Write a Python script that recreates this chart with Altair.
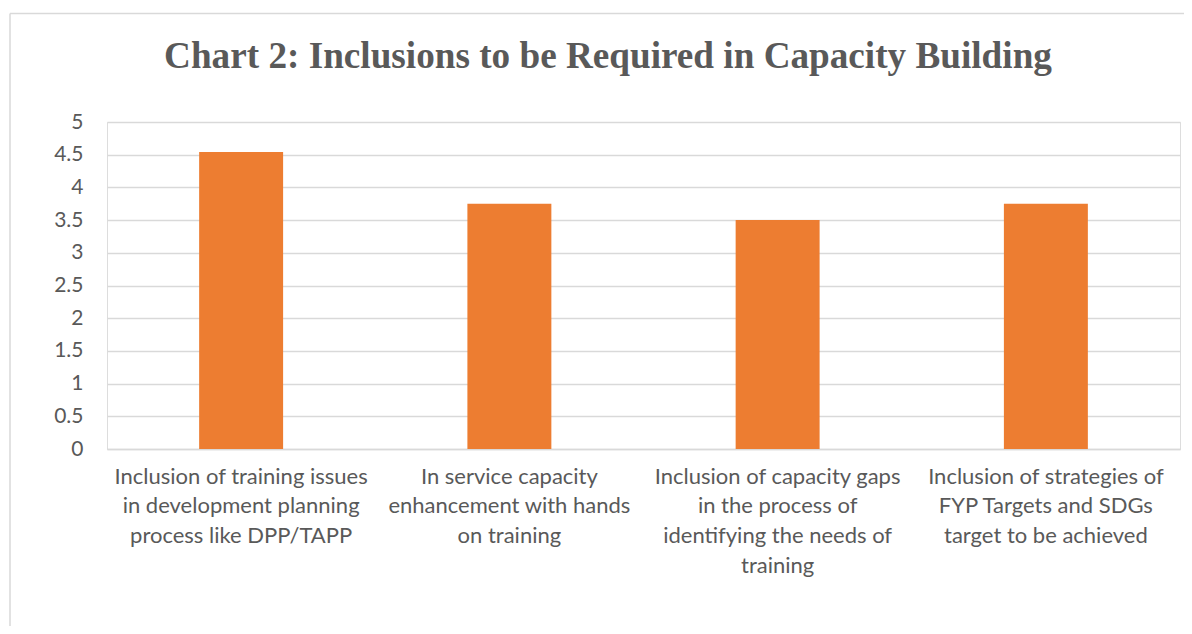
import altair as alt
import pandas as pd

title_text = "Chart 2: Inclusions to be Required in Capacity Building"
categories = [
    "Inclusion of training issues|in development planning|process like DPP/TAPP",
    "In service capacity|enhancement with hands|on training",
    "Inclusion of capacity gaps|in the process of|identifying  the needs of|training",
    "Inclusion of strategies of|FYP Targets and SDGs|target to be achieved",
]
values = [4.54, 3.75, 3.5, 3.75]
y_ticks = [0, 0.5, 1, 1.5, 2, 2.5, 3, 3.5, 4, 4.5, 5]

df = pd.DataFrame({"category": categories, "value": values})
one_df = pd.DataFrame({"title": [title_text]})

GRAY_TEXT = "#595959"
GRID = "#D9D9D9"
FONT = "Lato"

bars = alt.Chart(df).mark_bar(color="#ED7D31").encode(
    x=alt.X(
        "category:N",
        sort=categories,
        title=None,
        scale=alt.Scale(paddingInner=0.687, paddingOuter=0.3435),
        axis=alt.Axis(
            labelAngle=0,
            labelExpr="split(datum.label, '|')",
            labelFont=FONT,
            labelFontSize=22,
            labelColor=GRAY_TEXT,
            labelLineHeight=29.8,
            labelBaseline="top",
            labelPadding=17,
            labelLimit=300,
            ticks=False,
            domainColor=GRID,
            domainWidth=1.3,
            grid=False,
        ),
    ),
    y=alt.Y(
        "value:Q",
        title=None,
        scale=alt.Scale(domain=[0, 5], nice=False),
        axis=alt.Axis(
            values=y_ticks,
            format="~g",
            labelFont=FONT,
            labelFontSize=21,
            labelColor=GRAY_TEXT,
            labelPadding=24,
            ticks=False,
            domain=False,
            gridColor=GRID,
            gridWidth=1.3,
        ),
    ),
)

title = alt.Chart(one_df).mark_text(
    font="Liberation Serif",
    fontSize=37.2,
    fontWeight="bold",
    color=GRAY_TEXT,
    align="center",
    baseline="alphabetic",
).encode(text="title:N", x=alt.value(501), y=alt.value(-54.5))

# chart-area border (top and left edges visible in the reference)
border_top = alt.Chart(one_df).mark_rule(color=GRID, strokeWidth=1.5).encode(
    x=alt.value(-97), x2=alt.value(1200), y=alt.value(-108.5)
)
border_left = alt.Chart(one_df).mark_rule(color=GRID, strokeWidth=1.5).encode(
    x=alt.value(-97), y=alt.value(-108.5), y2=alt.value(700)
)

chart = (
    alt.layer(bars, title, border_top, border_left)
    .properties(
        width=1073,
        height=327,
        autosize=alt.AutoSizeParams(type="none"),
        padding={"left": 99, "top": 114, "right": 4, "bottom": 177},
    )
    .configure_view(stroke=None)
    .configure(background="white")
)

chart.save("out.html", embed_options={"renderer": "svg", "actions": False})
